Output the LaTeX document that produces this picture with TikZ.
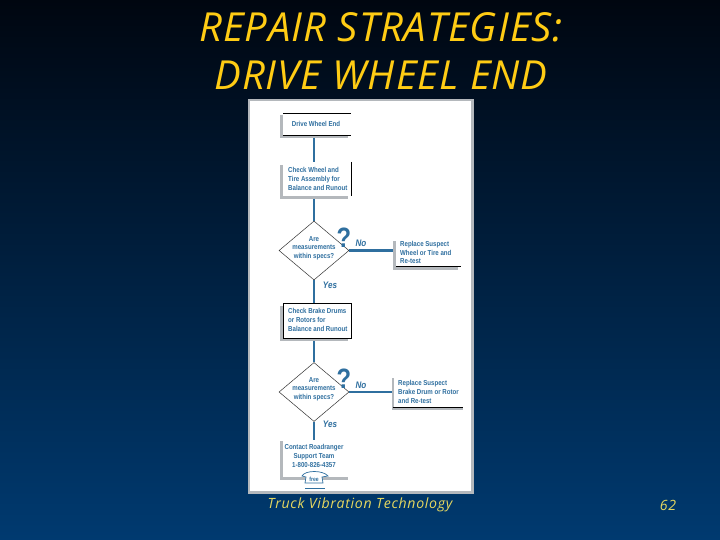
\documentclass[tikz,border=0pt]{standalone}
\usepackage{fontspec}
\setmainfont{Open Sans}
\newfontfamily\titlefont[LetterSpace=2.5]{Open Sans}
\newfontfamily\footfont[LetterSpace=5]{Open Sans}
\newfontfamily\flowfont[FakeStretch=0.85]{Liberation Sans}
\usetikzlibrary{shapes.geometric}
\definecolor{flowblue}{HTML}{2F6F9F}
\definecolor{boxgray}{HTML}{B4B8BC}
\definecolor{titleyellow}{HTML}{FFCC14}
\definecolor{footyellow}{HTML}{E6D860}
\definecolor{slatetop}{HTML}{000610}
\definecolor{slateblue}{HTML}{003A70}
\tikzset{
  flowline/.style={draw=flowblue,line width=2.4pt},
  boxtext/.style={text=flowblue,font=\flowfont\bfseries\fontsize{7.2}{8.6}\selectfont,align=left,anchor=west,inner sep=0pt},
  answer/.style={text=flowblue,font=\flowfont\bfseries\itshape\fontsize{9.5}{10}\selectfont,inner sep=0pt},
  decision/.style={draw=black!80,fill=white,diamond,shape aspect=1.186,inner sep=0pt,minimum width=70pt,minimum height=59pt,line width=.5pt},
  query/.style={text=flowblue,font=\flowfont\bfseries\fontsize{28}{28}\selectfont,inner sep=0pt},
  titletext/.style={text=titleyellow,font=\titlefont\itshape\fontsize{40}{44}\selectfont,inner sep=0pt},
  foottext/.style={text=footyellow,font=\footfont\itshape\fontsize{14.1}{16}\selectfont,inner sep=0pt}
}
\begin{document}
\begin{tikzpicture}[x=1pt,y=-1pt]
\useasboundingbox (0,0) rectangle (720,540);
\shade[top color=slatetop,bottom color=slateblue] (0,0) rectangle (720,540);

\node[titletext] (title1) at (381,27) {REPAIR STRATEGIES:};
\node[titletext] (title2) at (381,75) {DRIVE WHEEL END};

% page
\fill[boxgray] (248,99) rectangle (474,494);
\fill[white] (250,101) rectangle (471,491);

% boxes
\fill[boxgray] (280,115) rectangle (348,138);
\fill[white] (283,113) rectangle (351,135);
\draw[black,line width=.6pt] (283,113) -- (351,113) (283,135) -- (351,135);
\node[boxtext,anchor=center] (start) at (316,124) {Drive Wheel End};
\coordinate (startb) at (314,138);

\fill[boxgray] (280,165) rectangle (348,199);
\fill[white] (283,162) rectangle (351,196);
\draw[black,line width=.6pt] (351,162) -- (351,196);
\node[boxtext] (check1) at (288,179) {Check Wheel and\\Tire Assembly for\\Balance and Runout};
\coordinate (check1t) at (314,162);
\coordinate (check1b) at (314,199);

\node[decision] (spec1) at (314,250.5) {};
\node[boxtext,anchor=center,align=center] (spec1t) at (314,248) {Are\\measurements\\within specs?};
\node[query] (q1) at (344,238) {?};
\node[answer] (no1) at (361,243) {No};
\node[answer] (yes1) at (330,285) {Yes};

\fill[boxgray] (393,241) rectangle (458,270);
\fill[white] (396,239) rectangle (461,266);
\draw[black,line width=.6pt] (396,266) -- (461,266);
\node[boxtext] (repl1) at (400,252.5) {Replace Suspect\\Wheel or Tire and\\Re-test};
\coordinate (repl1l) at (393,250.5);

\fill[boxgray] (280,306) rectangle (348,341);
\draw[black,fill=white,line width=.6pt] (283,303) rectangle (351,338);
\node[boxtext] (check2) at (288,320) {Check Brake Drums\\or Rotors for\\Balance and Runout};
\coordinate (check2t) at (314,303);
\coordinate (check2b) at (314,341);

\node[decision] (spec2) at (314,392) {};
\node[boxtext,anchor=center,align=center] (spec2t) at (314,389) {Are\\measurements\\within specs?};
\node[query] (q2) at (344,379) {?};
\node[answer] (no2) at (361,385) {No};
\node[answer] (yes2) at (330,424) {Yes};

\fill[boxgray] (392,378) rectangle (463,410);
\fill[white] (394,376) rectangle (463,407.5);
\draw[black,line width=.6pt] (393,407.5) -- (463,407.5);
\node[boxtext] (repl2) at (398,392) {Replace Suspect\\Brake Drum or Rotor\\and Re-test};
\coordinate (repl2l) at (392,392);

\fill[boxgray] (280,441) rectangle (348,480);
\fill[white] (283,439) rectangle (351,477);
\node[boxtext,anchor=center,align=center] (contact) at (314,456) {Contact Roadranger\\Support Team\\1-800-826-4357};
\coordinate (contactt) at (314,440);

% phone
\draw[flowblue,fill=white,line width=.7pt] (302,476) .. controls (305,470) and (323,470) .. (328,476) -- (322,477) -- (323,483) -- (305,483) -- (306,477) -- cycle;
\node[text=flowblue,font=\flowfont\bfseries\fontsize{6}{6}\selectfont,inner sep=0pt] (free) at (314,479.5) {free};
\draw[flowblue,line width=.8pt] (305,488) -- (325,488);

\draw[flowline] (startb) -- (check1t);
\draw[flowline] (check1b) -- (spec1.north);
\draw[flowline] (spec1.east) -- (repl1l);
\draw[flowline] (spec1.south) -- (check2t);
\draw[flowline] (check2b) -- (spec2.north);
\draw[flowline] (spec2.east) -- (repl2l);
\draw[flowline] (spec2.south) -- (contactt);

\node[foottext] (foot) at (360,505) {Truck Vibration Technology};
\node[foottext] (page) at (668,505) {62};
\end{tikzpicture}
\end{document}
